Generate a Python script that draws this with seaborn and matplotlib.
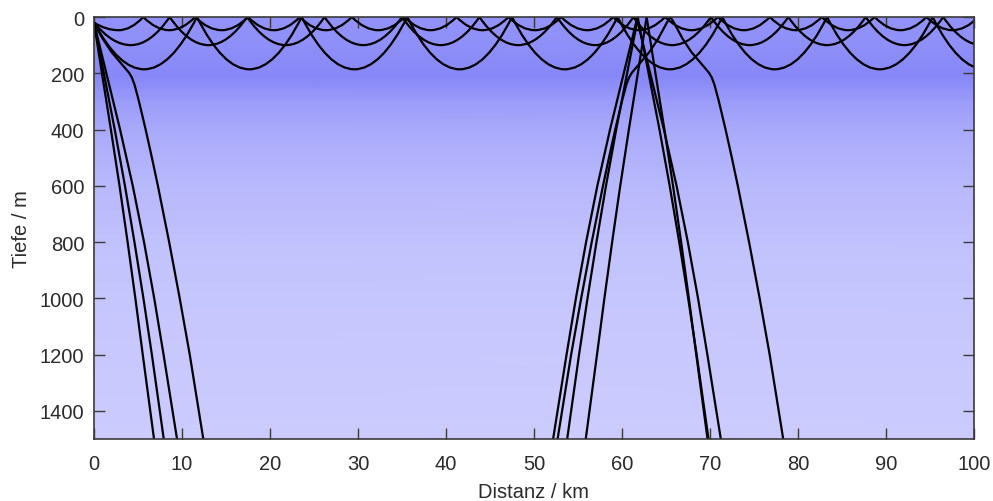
import numpy as np
import pandas as pd
import matplotlib
matplotlib.use("Agg")
import matplotlib.pyplot as plt
import seaborn as sns
from matplotlib.path import Path
from matplotlib.patches import PathPatch
from matplotlib.colors import LinearSegmentedColormap

# ---------------- data ----------------
# source position (km, m)
source_x = 0.0
source_z = 20.0

# background shading (sound-speed like profile), 0 = dark blue, 1 = light blue
bg_depth = [0, 100, 180, 210, 250, 300, 400, 500, 600, 800, 1000, 1500]
bg_shade = [0.17, 0.12, 0.03, 0.0, 0.12, 0.30, 0.50, 0.62, 0.72, 0.85, 0.93, 1.0]

# trapped rays in the surface duct: turning depth, first lower turning point, surface reflections
shallow_depth = 47
shallow_first_bottom = 2.8
shallow_touches = [5.6, 11.5, 17.5, 23.4, 29.3, 35.3, 41.2, 47.1, 53.1, 59.0,
                   64.9, 70.9, 76.8, 82.7, 88.7, 94.6, 100.5]

medium_depth = 100
medium_first_bottom = 4.2
medium_touches = [8.6, 17.4, 26.2, 35.0, 43.8, 52.6, 61.3, 70.1, 78.9, 87.7,
                  96.5, 105.3]

deep_depth = 186
deep_first_bottom = 5.7
deep_touches = [11.7, 23.6, 35.6, 47.5, 59.5, 71.4, 83.3, 95.3, 107.2]

# escaping rays (source side)
esc_z = [20, 200, 400, 600, 800, 1000, 1200, 1500]
esc1_x = [0.0, 0.9, 1.92, 2.9, 3.82, 4.70, 5.54, 6.82]
esc2_x = [0.0, 1.116, 2.356, 3.516, 4.596, 5.616, 6.576, 7.926]
esc3_x = [0.0, 1.404, 2.964, 4.404, 5.684, 6.844, 7.904, 9.434]
esc4_x = [0.0, 1.0, 2.0, 3.0, 3.6, 4.0, 4.3, 4.6, 5.11, 5.87, 6.58, 7.26, 8.54, 9.74, 10.88, 12.42]
esc4_z = [20, 78, 125, 162, 184, 199, 215, 240, 300, 400, 500, 600, 800, 1000, 1200, 1500]

# escaping rays returning in the convergence zone (up to the surface, then down again)
cz_z_up = [1500, 1200, 1000, 800, 600, 400, 200, 20, 0]
cz_z_down = [0, 20, 200, 400, 600, 800, 1000, 1200, 1500]
cz1_up_x = [55.88, 57.16, 58.0, 58.88, 59.8, 60.78, 61.8, 62.7, 62.8]
cz1_down_x = [62.8, 62.9, 63.8, 64.82, 65.8, 66.72, 67.6, 68.44, 69.72]
cz2_up_x = [53.77, 55.12, 56.08, 57.1, 58.18, 59.34, 60.58, 61.7, 61.8]
cz2_down_x = [61.8, 61.9, 63.02, 64.26, 65.42, 66.5, 67.52, 68.48, 69.83]
cz3_up_x = [52.17, 53.7, 54.76, 55.92, 57.2, 58.64, 60.2, 61.6, 61.7]
cz3_down_x = [61.7, 61.8, 63.2, 64.76, 66.2, 67.48, 68.64, 69.7, 71.23]
cz4_z_up = [1500, 1200, 1000, 800, 600, 500, 400, 300, 240, 215, 199, 184, 162, 125, 78, 20, 0]
cz4_up_x = [52.68, 54.22, 55.36, 56.56, 57.84, 58.52, 59.23, 59.99, 60.5, 60.8, 61.1, 61.5,
            62.1, 63.1, 64.1, 65.1, 65.5]
cz4_z_down = [0, 20, 78, 125, 162, 184, 199, 215, 240, 300, 400, 500, 600, 800, 1000, 1200, 1500]
cz4_down_x = [65.5, 65.9, 66.9, 67.9, 68.9, 69.5, 69.9, 70.2, 70.5, 71.01, 71.77, 72.48,
              73.16, 74.44, 75.64, 76.78, 78.32]

x_ticks = list(range(0, 101, 10))
y_ticks = list(range(0, 1401, 200))

# ---------------- figure ----------------
sns.set_theme(style="ticks")
plt.rcParams["font.family"] = ["Liberation Sans", "DejaVu Sans"]
text_col = "#2b2b2b"
fs = 14.5
lw = 1.6

fig = plt.figure(figsize=(9.93, 5.02), dpi=100)
ax = fig.add_axes([94 / 993, 1 - 440 / 502, 880 / 993, 422 / 502])

# background gradient
cmap = LinearSegmentedColormap.from_list("bg", ["#8787f8", "#cbcbfe"])
C = np.column_stack([bg_shade, bg_shade])
ax.pcolormesh([0, 100], bg_depth, C, shading="gouraud", cmap=cmap,
              vmin=0, vmax=1, zorder=0)

# escaping rays via seaborn
segments = [
    (esc1_x, esc_z), (esc2_x, esc_z), (esc3_x, esc_z), (esc4_x, esc4_z),
    (cz1_up_x, cz_z_up), (cz1_down_x, cz_z_down),
    (cz2_up_x, cz_z_up), (cz2_down_x, cz_z_down),
    (cz3_up_x, cz_z_up), (cz3_down_x, cz_z_down),
    (cz4_up_x, cz4_z_up), (cz4_down_x, cz4_z_down),
]
rows = []
for i, (xs, zs) in enumerate(segments):
    for k, (xv, zv) in enumerate(zip(xs, zs)):
        rows.append({"seg": i, "order": k, "x": xv, "z": zv})
df = pd.DataFrame(rows)
sns.lineplot(data=df, x="x", y="z", units="seg", estimator=None, sort=False,
             color="black", linewidth=lw, ax=ax, legend=False, zorder=3)


# trapped rays: parabolic arcs drawn as quadratic Bezier segments
def trapped_path(depth, first_bottom, touches):
    verts = [(source_x, source_z)]
    codes = [Path.MOVETO]
    verts += [((source_x + first_bottom) / 2, depth), (first_bottom, depth)]
    codes += [Path.CURVE3, Path.CURVE3]
    verts += [((first_bottom + touches[0]) / 2, depth), (touches[0], 0)]
    codes += [Path.CURVE3, Path.CURVE3]
    for t0, t1 in zip(touches[:-1], touches[1:]):
        b = (t0 + t1) / 2
        verts += [((t0 + b) / 2, depth), (b, depth)]
        codes += [Path.CURVE3, Path.CURVE3]
        verts += [((b + t1) / 2, depth), (t1, 0)]
        codes += [Path.CURVE3, Path.CURVE3]
    return Path(verts, codes)


for d, fb, tl in [(shallow_depth, shallow_first_bottom, shallow_touches),
                  (medium_depth, medium_first_bottom, medium_touches),
                  (deep_depth, deep_first_bottom, deep_touches)]:
    ax.add_patch(PathPatch(trapped_path(d, fb, tl), facecolor="none",
                           edgecolor="black", linewidth=lw, zorder=3))

ax.set_xlim(0, 100)
ax.set_ylim(1500, 0)
ax.set_xticks(x_ticks)
ax.set_yticks(y_ticks)
ax.tick_params(axis="both", direction="in", length=8, width=1.0, top=True,
               right=True, colors="#3a3a3a", labelcolor=text_col, labelsize=fs)
ax.tick_params(axis="x", pad=11)
ax.tick_params(axis="y", pad=7)
for s in ax.spines.values():
    s.set_visible(True)
    s.set_color("#3a3a3a")
    s.set_linewidth(1.2)
    s.set_zorder(5)

ax.set_xlabel("Distanz / km", fontsize=fs, color=text_col, labelpad=6)
ax.set_ylabel("Tiefe / m", fontsize=fs, color=text_col, labelpad=6)

fig.savefig("out.png", dpi=100)
